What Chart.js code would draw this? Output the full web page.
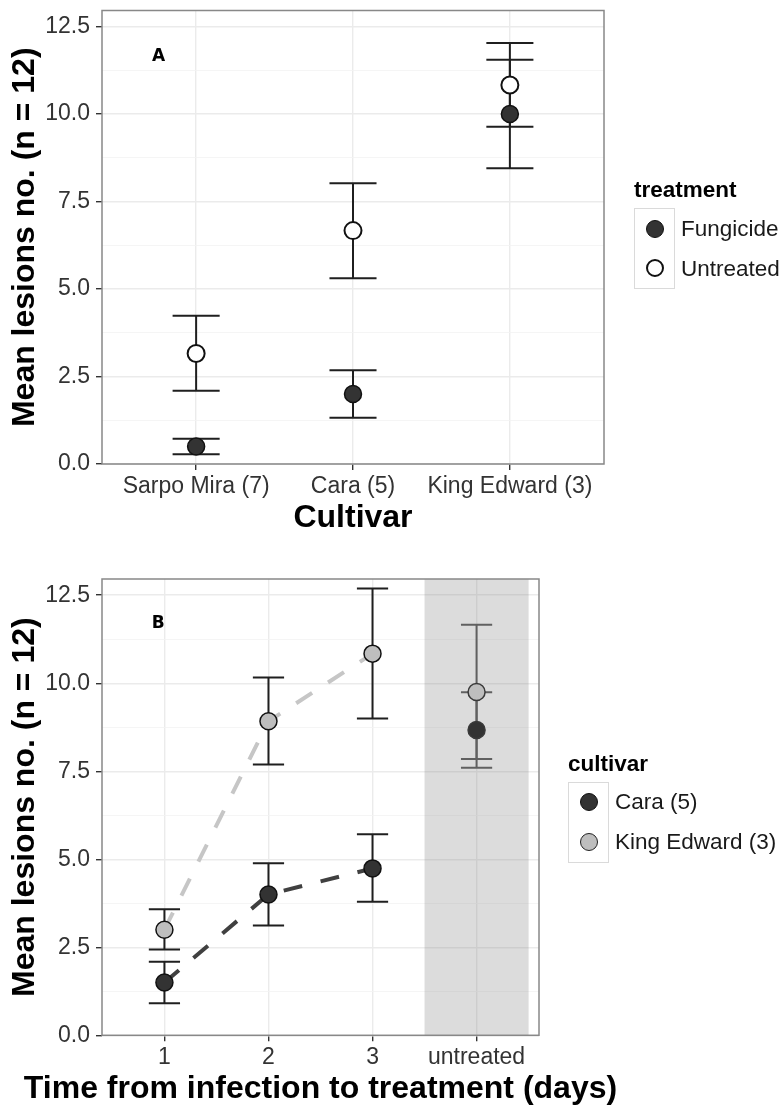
<!DOCTYPE html>
<html>
<head>
<meta charset="utf-8">
<script src="https://cdn.jsdelivr.net/npm/chart.js@4/dist/chart.umd.min.js"></script>
<style>
  html, body { margin: 0; padding: 0; background: #fff; }
  body { width: 784px; height: 1107px; position: relative; overflow: hidden;
         font-family: 'Liberation Sans', Arial, Helvetica, sans-serif; }
  canvas { position: absolute; left: 0; }
  #cA { top: 0; }
  #cB { top: 540px; }
  .leg { position: absolute; color: #1a1a1a; }
  .leg .ttl { font-weight: bold; font-size: 22.5px; line-height: 22.5px; height: 22.5px; white-space: nowrap; color: #000; }
  .leg .row { position: absolute; left: 0; height: 40px; display: flex; align-items: center; white-space: nowrap; }
  .leg .key { box-sizing: border-box; width: 41px; height: 41px; border: 1.5px solid #dadada; background: #fff;
              display: flex; align-items: center; justify-content: center; }
  .leg .dot { box-sizing: border-box; width: 18px; height: 18px; border-radius: 50%; }
  .leg .lbl { font-size: 22.5px; margin-left: 6px; }
</style>
</head>
<body>
<canvas id="cA" width="784" height="540"></canvas>
<canvas id="cB" width="784" height="567"></canvas>
<div class="leg" id="legA" style="left:634px; top:179px;"></div>
<div class="leg" id="legB" style="left:568px; top:752.5px;"></div>
<script>
// ---------- Panel A data ----------
const cultivars = ['Sarpo Mira (7)', 'Cara (5)', 'King Edward (3)'];
const fungicideMean = [0.50, 2.00, 10.00];
const fungicideLow  = [0.28, 1.32, 8.45];
const fungicideHigh = [0.72, 2.68, 11.55];
const untreatedMean = [3.16, 6.67, 10.83];
const untreatedLow  = [2.09, 5.31, 9.64];
const untreatedHigh = [4.24, 8.02, 12.03];

// ---------- Panel B data ----------
const timeLabels = ['1', '2', '3', 'untreated'];
const caraMean = [1.50, 4.00, 4.74, 8.67];
const caraLow  = [0.91, 3.12, 3.79, 7.60];
const caraHigh = [2.09, 4.89, 5.71, 9.74];
const kingEdwardMean = [3.00, 8.92, 10.84, 9.75];
const kingEdwardLow  = [2.44, 7.69, 9.00, 7.85];
const kingEdwardHigh = [3.58, 10.16, 12.69, 11.66];

// ---------- Axis ticks ----------
const yTickValues = [0, 2.5, 5, 7.5, 10, 12.5];
const yTickLabels = ['0.0', '2.5', '5.0', '7.5', '10.0', '12.5'];

const FONT = "'Liberation Sans', Arial, Helvetica, sans-serif";
Chart.defaults.font.family = FONT;

const CAP = 0.15;
function errorBars(low, high) {
  const pts = [];
  low.forEach((lo, i) => {
    const x = i + 1, hi = high[i];
    pts.push({x: x - CAP, y: hi}, {x: x + CAP, y: hi}, {x: x, y: null},
             {x: x, y: lo}, {x: x, y: hi}, {x: x, y: null},
             {x: x - CAP, y: lo}, {x: x + CAP, y: lo}, {x: x, y: null});
  });
  return pts;
}
function meanPoints(means) { return means.map((m, i) => ({x: i + 1, y: m})); }

function zeroPad(s) { s.paddingTop = 0; s.paddingBottom = 0; s.paddingLeft = 0; s.paddingRight = 0; }

function yScale() {
  return {
    type: 'linear', min: 0, max: 12.96, bounds: 'data',
    afterBuildTicks: s => {
      const t = [];
      yTickValues.forEach((v, i) => {
        t.push({value: v, isMinor: false});
        if (i < yTickValues.length - 1) t.push({value: (v + yTickValues[i + 1]) / 2, isMinor: true});
      });
      s.ticks = t;
    },
    ticks: {
      autoSkip: false, padding: 6, color: '#333', font: {size: 23},
      callback: v => { const k = yTickValues.indexOf(v); return k >= 0 ? yTickLabels[k] : ''; }
    },
    grid: {
      color: c => (c.tick && c.tick.isMinor) ? '#f3f3f3' : '#ebebeb',
      lineWidth: c => (c.tick && c.tick.isMinor) ? 0.8 : 1.4,
      tickColor: c => (c.tick && c.tick.isMinor) ? 'rgba(0,0,0,0)' : '#333',
      tickWidth: 1.4, tickLength: 6
    },
    border: {display: false},
    title: {display: true, text: 'Mean lesions no. (n = 12)', color: '#000',
            font: {size: 32, weight: 'bold', lineHeight: 1.2}, padding: {top: 6, bottom: 0}},
    afterFit: s => { s.width = 102; zeroPad(s); }
  };
}

function xScale(cats, title, height) {
  return {
    type: 'linear', min: 0.4, max: cats.length + 0.6, bounds: 'data',
    afterBuildTicks: s => { s.ticks = cats.map((c, i) => ({value: i + 1})); },
    ticks: {
      autoSkip: false, maxRotation: 0, minRotation: 0, padding: 3, color: '#333', font: {size: 23},
      callback: v => cats[Math.round(v) - 1]
    },
    grid: {color: '#ebebeb', lineWidth: 1.4, tickColor: '#333', tickWidth: 1.4, tickLength: 6},
    border: {display: false},
    title: {display: !!title, text: title || '', color: '#000',
            font: {size: 32, weight: 'bold', lineHeight: 1.1}, padding: {top: 0, bottom: 4}},
    afterFit: s => { s.height = height; zeroPad(s); }
  };
}

const panelPlugin = {
  id: 'panel',
  beforeDatasetsDraw(chart, args, opts) {
    if (!opts.shade) return;
    const ctx = chart.ctx, a = chart.chartArea, xs = chart.scales.x;
    const x0 = xs.getPixelForValue(opts.shade[0]), x1 = xs.getPixelForValue(opts.shade[1]);
    ctx.save();
    ctx.fillStyle = 'rgba(128,128,128,0.28)';
    ctx.fillRect(x0, a.top, x1 - x0, a.bottom - a.top);
    ctx.restore();
  },
  afterDatasetsDraw(chart, args, opts) {
    const ctx = chart.ctx, a = chart.chartArea;
    ctx.save();
    ctx.strokeStyle = '#888';
    ctx.lineWidth = 1.5;
    ctx.strokeRect(a.left, a.top, a.right - a.left, a.bottom - a.top);
    if (opts.letter) {
      ctx.fillStyle = '#000';
      ctx.font = "bold 17px 'DejaVu Sans', Verdana, sans-serif";
      ctx.textAlign = 'center';
      ctx.textBaseline = 'middle';
      ctx.fillText(opts.letter.text, chart.scales.x.getPixelForValue(opts.letter.x), chart.scales.y.getPixelForValue(opts.letter.y));
    }
    if (opts.xTitle) {
      // wide axis title: drawn without the scale-width squeeze
      ctx.fillStyle = '#000';
      ctx.font = "bold 32px " + FONT;
      ctx.textAlign = 'center';
      ctx.textBaseline = 'middle';
      ctx.fillText(opts.xTitle, (a.left + a.right) / 2, chart.scales.x.bottom - 18);
    }
    ctx.restore();
  }
};

function baseOptions(padding, scales, panelOpts) {
  return {
    responsive: false, animation: false, events: [],
    layout: {padding: padding},
    plugins: {legend: {display: false}, tooltip: {enabled: false}, panel: panelOpts},
    scales: scales
  };
}

// ---------- Chart A ----------
new Chart(document.getElementById('cA'), {
  type: 'line',
  data: {datasets: [
    {label: 'Fungicide error', data: errorBars(fungicideLow, fungicideHigh), showLine: true, spanGaps: false,
     borderColor: '#1f1f1f', borderWidth: 2, pointRadius: 0, order: 4},
    {label: 'Untreated error', data: errorBars(untreatedLow, untreatedHigh), showLine: true, spanGaps: false,
     borderColor: '#1f1f1f', borderWidth: 2, pointRadius: 0, order: 3},
    {label: 'Fungicide', data: meanPoints(fungicideMean), showLine: false,
     pointRadius: 8.5, pointBackgroundColor: '#333', pointBorderColor: '#111', pointBorderWidth: 1.5, order: 2},
    {label: 'Untreated', data: meanPoints(untreatedMean), showLine: false,
     pointRadius: 8.5, pointBackgroundColor: '#fff', pointBorderColor: '#111', pointBorderWidth: 2, order: 1}
  ]},
  options: baseOptions({left: 0, top: 7, right: 180, bottom: 0},
    {x: xScale(cultivars, 'Cultivar', 76), y: yScale()},
    {letter: {text: 'A', x: 0.76, y: 11.65}}),
  plugins: [panelPlugin]
});

// ---------- Chart B ----------
const untreatedIdx = timeLabels.indexOf('untreated');
const trendIdx = timeLabels.map((t, i) => i).filter(i => i !== untreatedIdx);
const errSeg = {borderColor: c => (Math.floor(c.p0DataIndex / 9) === untreatedIdx) ? '#606060' : '#1f1f1f'};
const ptBorder = c => (c.dataIndex === untreatedIdx) ? '#3a3a3a' : '#111';

new Chart(document.getElementById('cB'), {
  type: 'line',
  data: {datasets: [
    {label: 'Cara trend', data: trendIdx.map(i => ({x: i + 1, y: caraMean[i]})), showLine: true,
     borderColor: '#404040', borderWidth: 4, borderDash: [19, 19], borderCapStyle: 'butt', pointRadius: 0, order: 7},
    {label: 'King Edward trend', data: trendIdx.map(i => ({x: i + 1, y: kingEdwardMean[i]})), showLine: true,
     borderColor: '#c6c6c6', borderWidth: 4, borderDash: [19, 19], borderCapStyle: 'butt', pointRadius: 0, order: 6},
    {label: 'Cara error', data: errorBars(caraLow, caraHigh), showLine: true, spanGaps: false,
     borderColor: '#1f1f1f', borderWidth: 2, pointRadius: 0, segment: errSeg, order: 5},
    {label: 'King Edward error', data: errorBars(kingEdwardLow, kingEdwardHigh), showLine: true, spanGaps: false,
     borderColor: '#1f1f1f', borderWidth: 2, pointRadius: 0, segment: errSeg, order: 4},
    {label: 'Cara (5)', data: meanPoints(caraMean), showLine: false,
     pointRadius: 8.5, pointBackgroundColor: '#333', pointBorderColor: ptBorder, pointBorderWidth: 1.5, order: 2},
    {label: 'King Edward (3)', data: meanPoints(kingEdwardMean), showLine: false,
     pointRadius: 8.5, pointBackgroundColor: '#bebebe', pointBorderColor: ptBorder, pointBorderWidth: 1.5, order: 1}
  ]},
  options: baseOptions({left: 0, top: 39, right: 245, bottom: 0},
    {x: xScale(timeLabels, null, 71.7), y: yScale()},
    {letter: {text: 'B', x: 0.94, y: 11.68}, shade: [untreatedIdx + 0.5, untreatedIdx + 1.5],
     xTitle: 'Time from infection to treatment (days)'}),
  plugins: [panelPlugin]
});

// ---------- Legends (HTML) ----------
function buildLegend(el, title, items) {
  const t = document.createElement('div');
  t.className = 'ttl'; t.textContent = title; el.appendChild(t);
  items.forEach((it, i) => {
    const r = document.createElement('div');
    r.className = 'row';
    r.style.top = (29.5 + i * 40) + 'px';
    const k = document.createElement('div'); k.className = 'key';
    if (i > 0) k.style.borderTopWidth = '0';
    const d = document.createElement('div'); d.className = 'dot';
    d.style.background = it.fill; d.style.border = it.bw + 'px solid ' + it.stroke;
    k.appendChild(d);
    const l = document.createElement('span'); l.className = 'lbl'; l.textContent = it.label;
    r.appendChild(k); r.appendChild(l); el.appendChild(r);
  });
}
buildLegend(document.getElementById('legA'), 'treatment', [
  {label: 'Fungicide', fill: '#333', stroke: '#111', bw: 1.5},
  {label: 'Untreated', fill: '#fff', stroke: '#111', bw: 2}
]);
buildLegend(document.getElementById('legB'), 'cultivar', [
  {label: 'Cara (5)', fill: '#333', stroke: '#111', bw: 1.5},
  {label: 'King Edward (3)', fill: '#bebebe', stroke: '#222', bw: 1.5}
]);
</script>
</body>
</html>
